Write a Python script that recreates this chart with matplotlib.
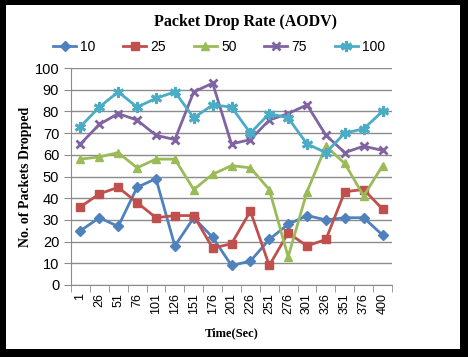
import numpy as np
import matplotlib
matplotlib.use("Agg")
import matplotlib.pyplot as plt
from matplotlib.patches import Rectangle
from matplotlib import font_manager

# data
times = ["1", "26", "51", "76", "101", "126", "151", "176", "201", "226",
         "251", "276", "301", "326", "351", "376", "400"]
drop_10 = [25, 31, 27, 45, 49, 18, 31, 22, 9, 11, 21, 28, 32, 30, 31, 31, 23]
drop_25 = [36, 42, 45, 38, 31, 32, 32, 17, 19, 34, 9, 24, 18, 21, 43, 44, 35]
drop_50 = [58, 59, 61, 54, 58, 58, 44, 51, 55, 54, 44, 13, 43, 64, 56, 41, 55]
drop_75 = [65, 74, 79, 76, 69, 67, 89, 93, 65, 67, 76, 79, 83, 69, 61, 64, 62]
drop_100 = [73, 82, 89, 82, 86, 89, 77, 83, 82, 70, 79, 77, 65, 61, 70, 72, 80]

series = [
    ("10", drop_10, "#4F81BD", "D", 5),
    ("25", drop_25, "#C0504D", "s", 6),
    ("50", drop_50, "#9BBB59", "^", 6),
    ("75", drop_75, "#8064A2", "x", 6),
    ("100", drop_100, "#4BACC6", (6, 2, 0), 8),
]

installed = {f.name for f in font_manager.fontManager.ttflist}
narrow = ["Liberation Sans Narrow", "DejaVu Sans"] if "Liberation Sans Narrow" in installed \
    else ["Liberation Sans", "DejaVu Sans"]
serif = ["Liberation Serif", "DejaVu Serif"]

W, H = 468, 357
fig = plt.figure(figsize=(W / 100, H / 100), dpi=100)
fig.patch.set_facecolor("black")
# white card with black frame / shadow
fig.patches.append(Rectangle((6 / W, 1 - 349 / H), (460 - 6) / W, (349 - 5) / H,
                             transform=fig.transFigure, facecolor="white",
                             edgecolor="none", zorder=-1))

ax = fig.add_axes([71 / W, 1 - 285 / H, (392 - 71) / W, (285 - 68) / H])
ax.set_facecolor("none")
ax.set_zorder(2)

x = np.arange(len(times))
handles = []
for name, vals, color, marker, ms in series:
    h, = ax.plot(x, vals, color=color, marker=marker, markersize=ms, lw=2,
                 markeredgewidth=2 if marker in ("x", (6, 2, 0)) else 1,
                 markeredgecolor=color, markerfacecolor=color, label=name)
    handles.append(h)

ax.set_xlim(-0.5, len(times) - 0.5)
ax.set_ylim(0, 100)
ax.set_yticks(range(0, 101, 10))
ax.grid(axis="y", color="#8c8c8c", lw=1)
ax.set_axisbelow(True)

ax.set_xticks(x)
ax.set_xticklabels(times, rotation=90, fontsize=9, family=narrow)
ax.set_xticks(np.arange(-0.5, len(times)), minor=True)
ax.tick_params(axis="x", which="major", length=0, pad=6)
ax.tick_params(axis="x", which="minor", length=5, color="#8c8c8c")
ax.tick_params(axis="y", length=5, color="#8c8c8c", labelsize=10.5)
for lbl in ax.get_yticklabels():
    lbl.set_family(narrow)

for s in ("top", "right"):
    ax.spines[s].set_visible(False)
ax.spines["left"].set_color("#8c8c8c")
ax.spines["bottom"].set_color("#8c8c8c")

ax.set_xlabel("Time(Sec)", fontsize=9, fontweight="bold", family=serif, labelpad=9)
ax.set_ylabel("No. of Packets Dropped", fontsize=10, fontweight="bold", family=serif,
              labelpad=2)

fig.text(246 / W, 1 - 22 / H, "Packet Drop Rate (AODV)", ha="center", va="center",
         fontsize=11.5, fontweight="bold", family=serif)

leg = fig.legend(handles=handles, loc="center", bbox_to_anchor=(219 / W, 1 - 47 / H),
                 ncol=5, frameon=False, handlelength=1.65, columnspacing=2.0,
                 handletextpad=0.3, prop={"family": narrow, "size": 10})

fig.savefig("out.png", dpi=100, facecolor=fig.get_facecolor())
